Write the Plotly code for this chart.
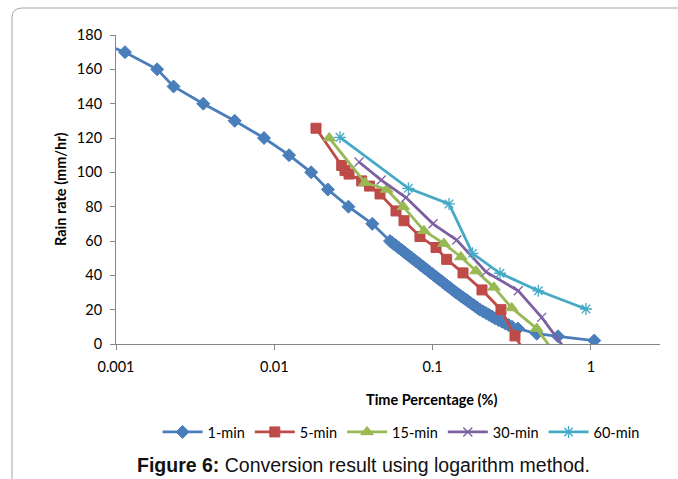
import plotly.graph_objects as go

# Rain rate (mm/hr) versus time percentage (%) for each integration time
min1_pct = [0.0006, 0.00114, 0.00182, 0.00231, 0.00356, 0.00562, 0.00861, 0.0124, 0.0171,
            0.0218, 0.0294, 0.0416,
            0.05383, 0.05558, 0.05739, 0.05925, 0.06118, 0.06317, 0.06522, 0.06734, 0.06953,
            0.07179, 0.07412, 0.07653, 0.07902, 0.08159, 0.08424, 0.08698, 0.08981, 0.09273,
            0.09574, 0.09885, 0.1020, 0.1053, 0.1088, 0.1123, 0.1160, 0.1197, 0.1236, 0.1276,
            0.1318, 0.1361, 0.1405, 0.1455, 0.1507, 0.1560, 0.1615, 0.1673, 0.1732, 0.1794,
            0.1857, 0.1923, 0.1991, 0.2082, 0.2175, 0.2272, 0.2373, 0.2479, 0.2605, 0.2737,
            0.2876, 0.3021, 0.3175,
            0.346, 0.455, 0.62, 1.05]
min1_rate = [180, 170, 160, 150, 140, 130, 120, 110, 100, 90, 80, 70,
             60, 59, 58, 57, 56, 55, 54, 53, 52, 51, 50, 49, 48, 47, 46, 45, 44, 43, 42, 41,
             40, 39, 38, 37, 36, 35, 34, 33, 32, 31, 30, 29, 28, 27, 26, 25, 24, 23, 22, 21,
             20, 19, 18, 17, 16, 15, 14, 13, 12, 11, 10,
             9, 6, 4.5, 2]

min5_pct = [0.01834, 0.02666, 0.02797, 0.02965, 0.03565, 0.03994, 0.04653, 0.05872, 0.0660,
            0.0832, 0.1051, 0.1227, 0.1556, 0.2051, 0.2704, 0.3315, 0.399]
min5_rate = [125.7, 104, 101, 99, 95, 92, 87.4, 77.5, 71.8, 62.6, 56.2, 49.3, 41.4, 31.5,
             20, 4.7, -8]

min15_pct = [0.02224, 0.03741, 0.05129, 0.0653, 0.0882, 0.118, 0.151, 0.188, 0.244, 0.316,
             0.4548, 0.6207]
min15_rate = [120, 94, 90, 80, 66, 58.5, 50.7, 42.5, 33, 21, 9, -8]

min30_pct = [0.0343, 0.0474, 0.0679, 0.1006, 0.1420, 0.2175, 0.3478, 0.4889, 0.754]
min30_rate = [106, 95.5, 85.3, 70, 60.6, 42, 31, 15.5, -8]

min60_pct = [0.0260, 0.0703, 0.127, 0.1786, 0.2667, 0.4656, 0.931]
min60_rate = [120.4, 90.7, 81.6, 52.8, 41.2, 31, 20.4]

series = [
    ("1-min", min1_pct, min1_rate, "#4A7EBB", "diamond", 10),
    ("5-min", min5_pct, min5_rate, "#BE4B48", "square", 10),
    ("15-min", min15_pct, min15_rate, "#98B954", "triangle-up", 11),
    ("30-min", min30_pct, min30_rate, "#7D60A0", "x-thin", 9),
    ("60-min", min60_pct, min60_rate, "#46AAC5", "asterisk", 10),
]

W, H = 678, 479
L, R, T, B = 116, 660, 35, 344   # plot area edges in pixels


def px_x(p):
    return (p - L) / (R - L)


def px_y(p):
    return (B - p) / (B - T)


fig = go.Figure()
for name, xs, ys, col, sym, size in series:
    if sym in ("x-thin", "asterisk"):
        marker = dict(symbol=sym + "-open", size=size, color=col,
                      line=dict(color=col, width=1.3))
    else:
        marker = dict(symbol=sym, size=size, color=col, line=dict(color=col, width=1))
    fig.add_trace(go.Scatter(x=xs, y=ys, name=name, mode="lines+markers",
                             line=dict(color=col, width=2.8), marker=marker,
                             cliponaxis=True))

FONT = "Lato, Carlito, sans-serif"
tick_font = dict(family=FONT, size=14.5, color="#000000")
axis_col = "#868686"

fig.update_layout(
    width=W, height=H,
    margin=dict(l=L, r=W - R, t=T, b=H - B),
    paper_bgcolor="white", plot_bgcolor="white",
    showlegend=True,
    legend=dict(orientation="h", x=px_x(401), y=px_y(432), xanchor="center",
                yanchor="middle", font=dict(family=FONT, size=14.5, color="#000"),
                itemwidth=40, tracegroupgap=0, bgcolor="rgba(0,0,0,0)"),
    xaxis=dict(type="log", range=[-3, 0.4365], tickvals=[0.001, 0.01, 0.1, 1],
               ticktext=["0.001", "0.01", "0.1", "1"], showgrid=False, zeroline=False,
               showline=True, linecolor=axis_col, linewidth=1, ticks="outside",
               ticklen=5, tickcolor=axis_col, tickfont=tick_font, ticklabelstandoff=5),
    yaxis=dict(range=[0, 180], dtick=20, showgrid=False, zeroline=False,
               showline=True, linecolor=axis_col, linewidth=1, ticks="outside",
               ticklen=5, tickcolor=axis_col, tickfont=tick_font, ticklabelstandoff=5),
)

# axis titles
fig.add_annotation(text="<b>Time Percentage (%)</b>", xref="paper", yref="paper",
                   x=px_x(431), y=px_y(399), showarrow=False, xanchor="center",
                   yanchor="middle", font=dict(family=FONT, size=14.5, color="#000"))
fig.add_annotation(text="<b>Rain rate (mm/hr)</b>", xref="paper", yref="paper",
                   x=px_x(61), y=px_y(190), showarrow=False, textangle=-90,
                   xanchor="center", yanchor="middle",
                   font=dict(family=FONT, size=14.5, color="#000"))

# figure caption
fig.add_annotation(text="<b>Figure 6:</b> Conversion result using logarithm method.",
                   xref="paper", yref="paper", x=px_x(363), y=px_y(465), showarrow=False,
                   xanchor="center", yanchor="middle",
                   font=dict(family="Liberation Sans, Arial, sans-serif", size=19.5,
                             color="#111"))

# rounded chart-area frame
rad = 10
path = (f"M {px_x(12)},{px_y(490)} L {px_x(12)},{px_y(8 + rad)} "
        f"Q {px_x(12)},{px_y(8)} {px_x(12 + rad)},{px_y(8)} L {px_x(690)},{px_y(8)}")
fig.add_shape(type="path", path=path, xref="paper", yref="paper",
              line=dict(color="#A6A6A6", width=1))

fig.write_html("out.html")
